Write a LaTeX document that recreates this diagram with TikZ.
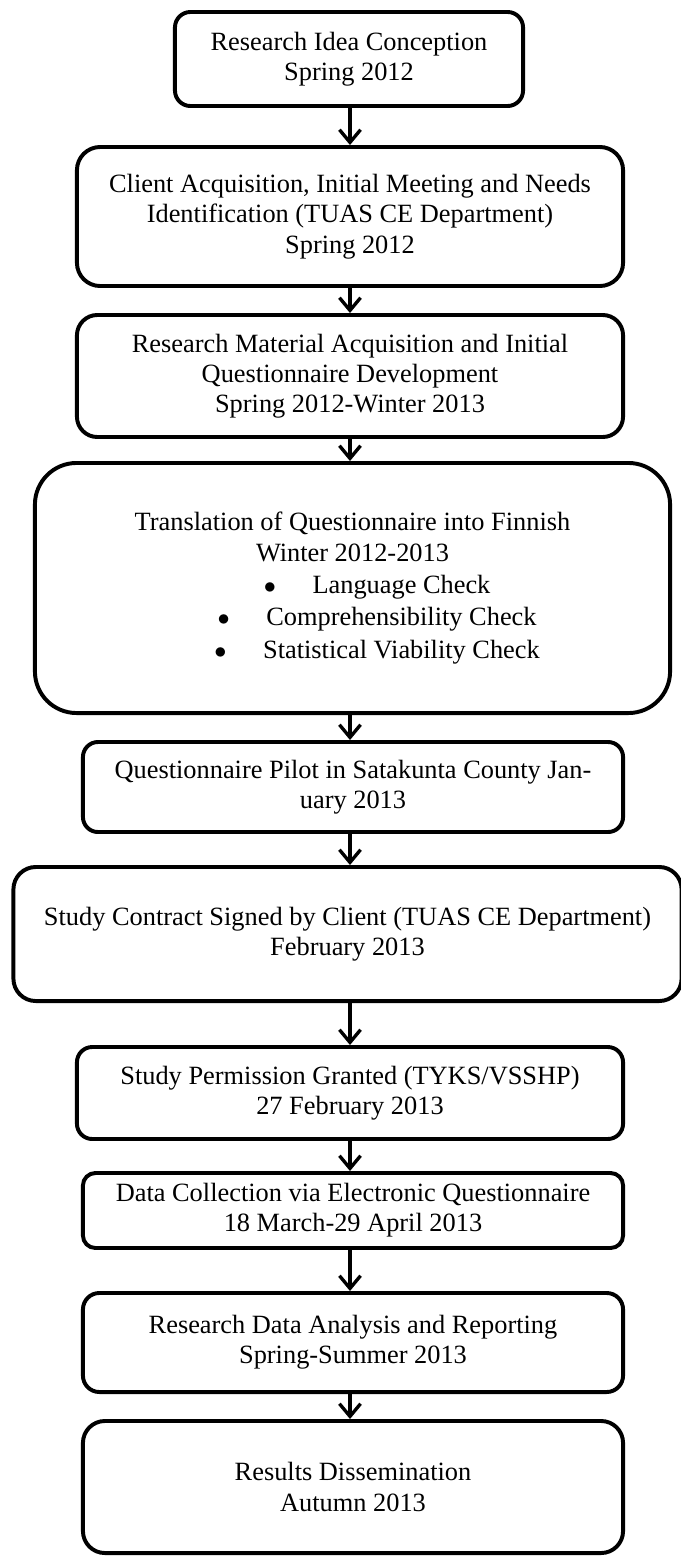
\documentclass[tikz,border=0pt]{standalone}
\usepackage{fontspec}
\setmainfont{Liberation Serif}
\usetikzlibrary{arrows.meta}

\tikzset{
    stagebox/.style={draw, line width=2.8pt, align=center, inner sep=0pt,
        font=\fontsize{18.75}{21.5}\selectfont},
    flowarrow/.style={line width=2.4pt, -{Straight Barb[length=9pt,width=15pt]}}
}

\begin{document}
\begin{tikzpicture}[x=0.025cm, y=-0.025cm]
    % Page size of the reference
    \useasboundingbox (0,0) rectangle (680,1566);
    \coordinate (axis) at (350,0);

    % Stages of the study, top to bottom
    \node[stagebox, minimum width=8.7cm, minimum height=2.35cm, rounded corners=11pt]
        (idea) at (349,59) {Research Idea Conception\\Spring 2012};
    \node[stagebox, minimum width=13.65cm, minimum height=3.475cm, rounded corners=16.5pt]
        (client) at (350,216.5) {Client Acquisition, Initial Meeting and Needs\\Identification (TUAS CE Department)\\Spring 2012};
    \node[stagebox, minimum width=13.65cm, minimum height=3.05cm, rounded corners=14.5pt]
        (material) at (350,376) {Research Material Acquisition and Initial\\Questionnaire Development\\Spring 2012-Winter 2013};
    \node[stagebox, minimum width=15.875cm, minimum height=6.25cm, rounded corners=29.6pt]
        (translation) at (352.5,588) {Translation of Questionnaire into Finnish\\Winter 2012-2013\\[1.5pt]
        \hspace*{35pt}$\bullet$\hspace{26pt}Language Check\\[1.5pt]
        \hspace*{35pt}$\bullet$\hspace{26pt}Comprehensibility Check\\[1.5pt]
        \hspace*{35pt}$\bullet$\hspace{26pt}Statistical Viability Check};
    \node[stagebox, minimum width=13.5cm, minimum height=2.25cm, rounded corners=10.7pt]
        (pilot) at (353,787) {Questionnaire Pilot in Satakunta County Jan-\\uary 2013};
    \node[stagebox, minimum width=16.7cm, minimum height=3.35cm, rounded corners=15.9pt]
        (contract) at (347.5,934) {Study Contract Signed by Client (TUAS CE Department)\\February 2013};
    \node[stagebox, minimum width=13.65cm, minimum height=2.3cm, rounded corners=10.9pt]
        (permission) at (350,1093) {Study Permission Granted (TYKS/VSSHP)\\27 February 2013};
    \node[stagebox, minimum width=13.5cm, minimum height=1.875cm, rounded corners=8.9pt]
        (collection) at (353,1210.5) {Data Collection via Electronic Questionnaire\\18 March-29 April 2013};
    \node[stagebox, minimum width=13.5cm, minimum height=2.475cm, rounded corners=11.7pt]
        (analysis) at (353,1342.5) {Research Data Analysis and Reporting\\Spring-Summer 2013};
    \node[stagebox, minimum width=13.5cm, minimum height=3.3cm, rounded corners=15.6pt]
        (results) at (353,1487) {Results Dissemination\\Autumn 2013};

    % Arrows from each stage to the next
    \draw[flowarrow] (idea.south -| axis) -- (client.north -| axis);
    \draw[flowarrow] (client.south -| axis) -- (material.north -| axis);
    \draw[flowarrow] (material.south -| axis) -- (translation.north -| axis);
    \draw[flowarrow] (translation.south -| axis) -- (pilot.north -| axis);
    \draw[flowarrow] (pilot.south -| axis) -- (contract.north -| axis);
    \draw[flowarrow] (contract.south -| axis) -- (permission.north -| axis);
    \draw[flowarrow] (permission.south -| axis) -- (collection.north -| axis);
    \draw[flowarrow] (collection.south -| axis) -- (analysis.north -| axis);
    \draw[flowarrow] (analysis.south -| axis) -- (results.north -| axis);

\end{tikzpicture}
\end{document}
